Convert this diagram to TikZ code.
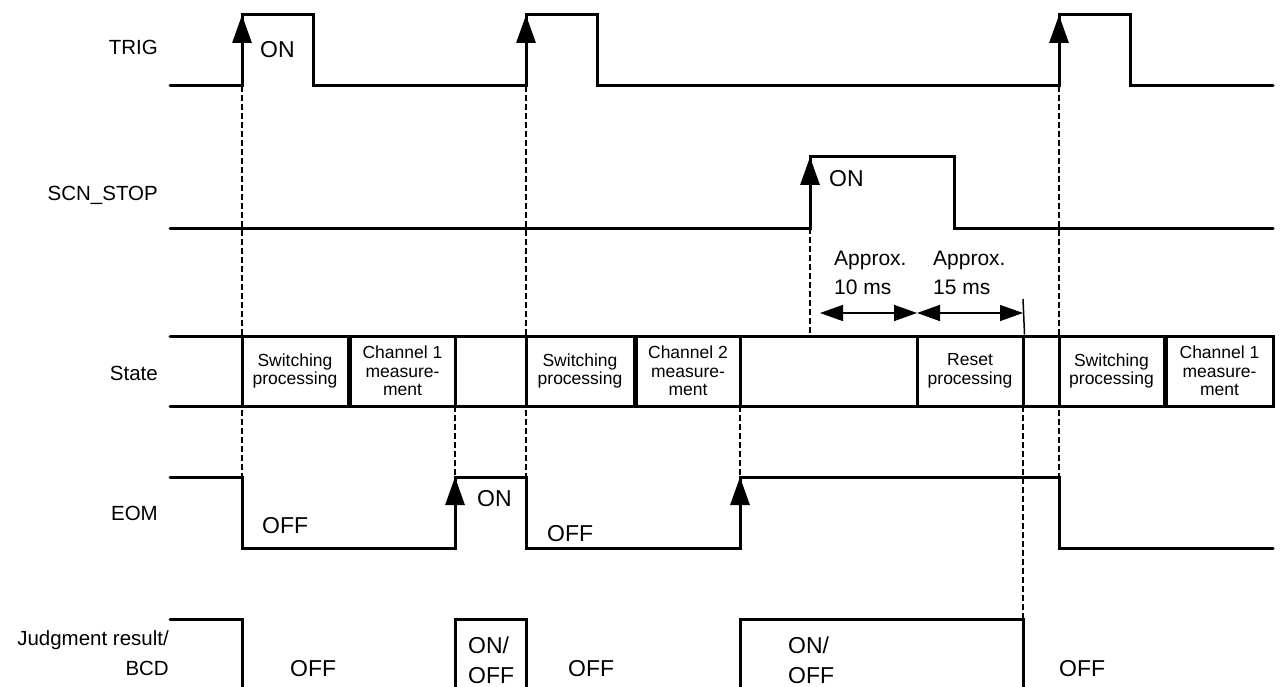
\documentclass[tikz,border=0pt]{standalone}
\usepackage{fontspec}
\setmainfont{Liberation Sans}
\usepackage{tikz}
\usetikzlibrary{arrows.meta,positioning,calc}
\tikzset{
  wave/.style    = {line width=3pt,line cap=round,line join=miter},
  edgeup/.style  = {-{Triangle[length=28pt,width=19pt]},line width=3pt},
  guide/.style   = {line width=1.2pt,dash pattern=on 6pt off 3pt},
  dimarr/.style  = {{Triangle[length=23pt,width=16pt]}-{Triangle[length=23pt,width=16pt]},
                    line width=1.5pt},
  signame/.style = {anchor=base east,inner sep=0pt,align=right,
                    font=\fontsize{20.5}{30}\selectfont},
  lvl/.style     = {anchor=base west,inner sep=0pt,align=left,
                    font=\fontsize{23}{30}\selectfont},
  note/.style    = {anchor=base west,inner sep=0pt,align=left,
                    font=\fontsize{21}{29}\selectfont},
  stbox/.style   = {draw,line width=3pt,minimum height=70pt,inner sep=0pt,
                    align=center,font=\fontsize{17.5}{18.5}\selectfont},
}
\newcommand{\statecell}[4]{%
  \node[stbox,minimum width={(#3-#2)*1pt}] (#1) at ({(#2+#3)/2},371) {#4};%
}

\begin{document}
\begin{tikzpicture}[x=1pt,y=-1pt]
  \path[use as bounding box,clip] (0,0) rectangle (1281,687);

  \foreach \x/\ya/\yb in {242/86/477,526/86/477,1059/86/477,455/406/477,
                          740/406/477,810/228/336,1023/406/619}
    \draw[guide] (\x,\ya) -- (\x,\yb);

  \node[signame] (trig) at (158,54.5) {TRIG};
  \node[signame] (scn) at (158,200.5) {SCN\_STOP};
  \node[signame] (state) at (158,380.5) {State};
  \node[signame] (eom) at (158,520.5) {EOM};
  \node[signame] (judge) at (169,675.5) {Judgment result/\\BCD};

  \draw[wave] (170,86) -- (242,86) -- (242,15) -- (313,15) -- (313,86)
        -- (526,86) -- (526,15) -- (597,15) -- (597,86) -- (1059,86)
        -- (1059,15) -- (1130,15) -- (1130,86) -- (1273,86);
  \draw[wave] (170,228) -- (810,228) -- (810,157) -- (954,157) -- (954,228)
        -- (1273,228);
  \draw[wave] (170,477) -- (242,477) -- (242,548) -- (455,548) -- (455,477)
        -- (526,477) -- (526,548) -- (740,548) -- (740,477) -- (1059,477)
        -- (1059,548) -- (1273,548);
  \draw[wave] (170,619) -- (242,619) -- (242,700);
  \draw[wave] (455,700) -- (455,619) -- (526,619) -- (526,700);
  \draw[wave] (740,700) -- (740,619) -- (1023,619) -- (1023,700);

  \foreach \x/\ya/\yb in {242/86/15,526/86/15,1059/86/15,810/228/157,
                          455/548/477,740/548/477}
    \draw[edgeup] (\x,\ya) -- (\x,\yb);

  \draw[wave] (170,336) -- (1273,336);
  \draw[wave] (170,406) -- (1273,406);
  \statecell{sw1}{242}{348}{Switching\\processing}
  \statecell{ch1}{350}{455}{Channel 1\\measure-\\ment}
  \statecell{gap1}{455}{526}{}
  \statecell{sw2}{526}{634}{Switching\\processing}
  \statecell{ch2}{636}{740}{Channel 2\\measure-\\ment}
  \statecell{gap2}{740}{917}{}
  \statecell{rst}{917}{1023}{Reset\\processing}
  \statecell{gap3}{1023}{1059}{}
  \statecell{sw3}{1059}{1164}{Switching\\processing}
  \statecell{ch3}{1166}{1273}{Channel 1\\measure-\\ment}

  \coordinate (d0) at (820,313);
  \coordinate (d1) at (917,313);
  \coordinate (d2) at (1023,313);
  \coordinate (tk) at (1023,299);
  \draw[dimarr] (d0) -- (d1);
  \draw[dimarr] (d1) -- (d2);
  \draw[line width=1.5pt] (tk) -- (rst.north east);
  \node[note] (ap10) at (834,294.5) {Approx.\\10 ms};
  \node[note] (ap15) at (933,294.5) {Approx.\\15 ms};

  \node[lvl] (trigon) at (260,58) {ON};
  \node[lvl] (scnon) at (829,186) {ON};
  \node[lvl] (eomoff1) at (262,533) {OFF};
  \node[lvl] (eomon) at (477,506) {ON};
  \node[lvl] (eomoff2) at (547,541) {OFF};
  \node[lvl] (jdoff1) at (290,676) {OFF};
  \node[lvl] (jdon1) at (468,683) {ON/\\OFF};
  \node[lvl] (jdoff2) at (568,676) {OFF};
  \node[lvl] (jdon2) at (788,683) {ON/\\OFF};
  \node[lvl] (jdoff3) at (1059,676) {OFF};
\end{tikzpicture}
\end{document}
